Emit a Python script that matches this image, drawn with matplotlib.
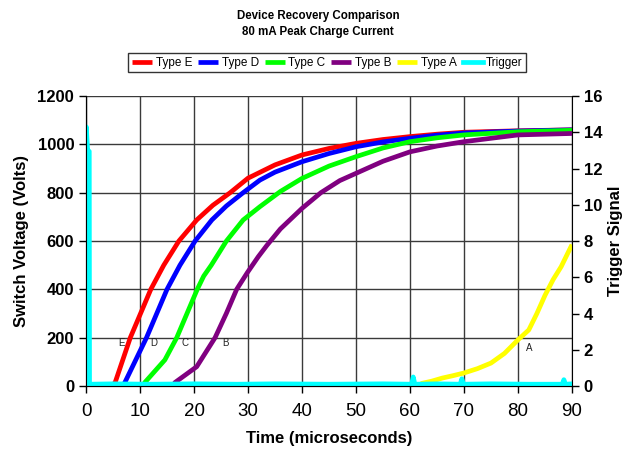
import matplotlib
matplotlib.use("Agg")
import matplotlib.pyplot as plt
import numpy as np

plt.rcParams["font.family"] = ["Liberation Sans", "DejaVu Sans"]

# switch voltage recovery curves (time in microseconds, volts)
t_e = [4.8, 5.4, 8.2, 10.1, 12.0, 14.4, 17.2, 20.5, 23.5, 26.7, 30, 35, 40, 45, 50, 55, 60, 65, 70, 80, 90]
v_e = [0, 15, 200, 300, 400, 500, 600, 687, 748, 800, 860, 915, 956, 983, 1004, 1020, 1032, 1042, 1050, 1056, 1060]

t_d = [6.8, 7.2, 11.2, 13.1, 15.0, 17.4, 20.2, 23.3, 26, 29.1, 32.2, 35, 40, 45, 50, 55, 60, 65, 70, 80, 90]
v_d = [0, 15, 200, 300, 400, 500, 600, 687, 745, 800, 852, 885, 928, 962, 990, 1010, 1025, 1038, 1047, 1055, 1060]

t_c = [10.5, 10.9, 14.6, 16.8, 18.7, 20.6, 21.8, 23.2, 26, 29.1, 32.2, 36, 40, 45, 50, 55, 60, 65, 70, 80, 90]
v_c = [0, 15, 108, 200, 300, 400, 455, 500, 600, 687, 742, 805, 859, 910, 949, 985, 1011, 1027, 1039, 1052, 1058]

t_b = [16, 16.5, 20.5, 23.9, 26, 27.9, 29.9, 31.9, 33.5, 36, 40, 43.5, 47, 50, 55, 60, 65, 70, 80, 90]
v_b = [0, 15, 80, 200, 301, 400, 470, 535, 582, 650, 735, 800, 850, 880, 930, 969, 993, 1011, 1039, 1045]

t_a = [62, 64, 66, 68, 70, 72.5, 75, 77.5, 80, 82, 83.5, 85, 86.5, 88, 90]
v_a = [10, 20, 33, 43, 54, 72, 95, 135, 191, 232, 300, 375, 440, 494, 585]

# trigger signal (right axis)
t_trig = [0, 0.05, 0.3, 0.6, 0.65, 5, 12, 20, 28, 35, 45, 55, 60.3, 60.6, 60.9, 65,
          69.3, 69.6, 69.9, 75, 82, 88.2, 88.5, 88.8, 90]
v_trig = [0, 14.3, 13.0, 12.95, 0.1, 0.12, 0.1, 0.12, 0.1, 0.12, 0.1, 0.12, 0.1, 0.5, 0.1,
          0.12, 0.1, 0.4, 0.1, 0.12, 0.1, 0.1, 0.35, 0.1, 0.12]

labels = ["E", "D", "C", "B", "A"]
label_t = [6.6, 12.6, 18.3, 25.9, 82.0]
label_v = [178, 178, 178, 178, 157]

fig = plt.figure(figsize=(6.26, 4.55), dpi=100)
ax = fig.add_axes([0.1374, 0.1516, 0.7763, 0.6374])
ax2 = ax.twinx()

lw = 3.4
style = dict(lw=lw, zorder=3, solid_joinstyle="round", solid_capstyle="butt")
ax.plot(t_e, v_e, color="#ff0000", label="Type E", **style)
ax.plot(t_d, v_d, color="#0000ff", label="Type D", **style)
ax.plot(t_c, v_c, color="#00ff00", label="Type C", **style)
ax.plot(t_b, v_b, color="#800080", label="Type B", **style)
ax.plot(t_a, v_a, color="#ffff00", label="Type A", **style)
ax2.plot(t_trig, v_trig, color="#00ffff", lw=3.4, label="Trigger", solid_joinstyle="round")

for lab, x, y in zip(labels, label_t, label_v):
    ax.text(x, y, lab, fontsize=7, ha="center", va="center", color="#222222", zorder=4)

ax.set_xlim(0, 90)
ax.set_ylim(0, 1200)
ax2.set_ylim(0, 16)
ax.set_xticks(np.arange(0, 91, 10))
ax.set_yticks(np.arange(0, 1201, 200))
ax2.set_yticks(np.arange(0, 17, 2))

ax.grid(True, color="#3a3a3a", lw=1.0, zorder=0)
ax.set_axisbelow(True)
for a in (ax, ax2):
    a.spines["top"].set_visible(False)
    a.tick_params(direction="out", length=5, width=1, color="black")
ax.spines["right"].set_visible(False)

ax.tick_params(axis="x", labelsize=13.5, pad=7)
ax.tick_params(axis="y", labelsize=12)
ax2.tick_params(axis="y", labelsize=12)
for lbl in ax.get_yticklabels() + ax2.get_yticklabels():
    lbl.set_fontweight("bold")

ax.set_xlabel("Time (microseconds)", fontsize=12, fontweight="bold", labelpad=8)
ax.set_ylabel("Switch Voltage (Volts)", fontsize=12, fontweight="bold", labelpad=6)
ax2.set_ylabel("Trigger Signal", fontsize=12, fontweight="bold", labelpad=4)

fig.text(0.508, 0.965, "Device Recovery Comparison", ha="center", va="center",
         fontsize=8.3, fontweight="bold")
fig.text(0.508, 0.93, "80 mA Peak Charge Current", ha="center", va="center",
         fontsize=8.3, fontweight="bold")

h1, n1 = ax.get_legend_handles_labels()
h2, n2 = ax2.get_legend_handles_labels()
leg = fig.legend(h1 + h2, n1 + n2, loc="center", bbox_to_anchor=(0.523, 0.862), ncol=6,
                 fontsize=8.5, frameon=True, fancybox=False, edgecolor="black",
                 handlelength=1.7, handletextpad=0.3, columnspacing=0.5,
                 borderpad=0.3, borderaxespad=0)
leg.get_frame().set_linewidth(1.0)

fig.savefig("out.png", dpi=100)
